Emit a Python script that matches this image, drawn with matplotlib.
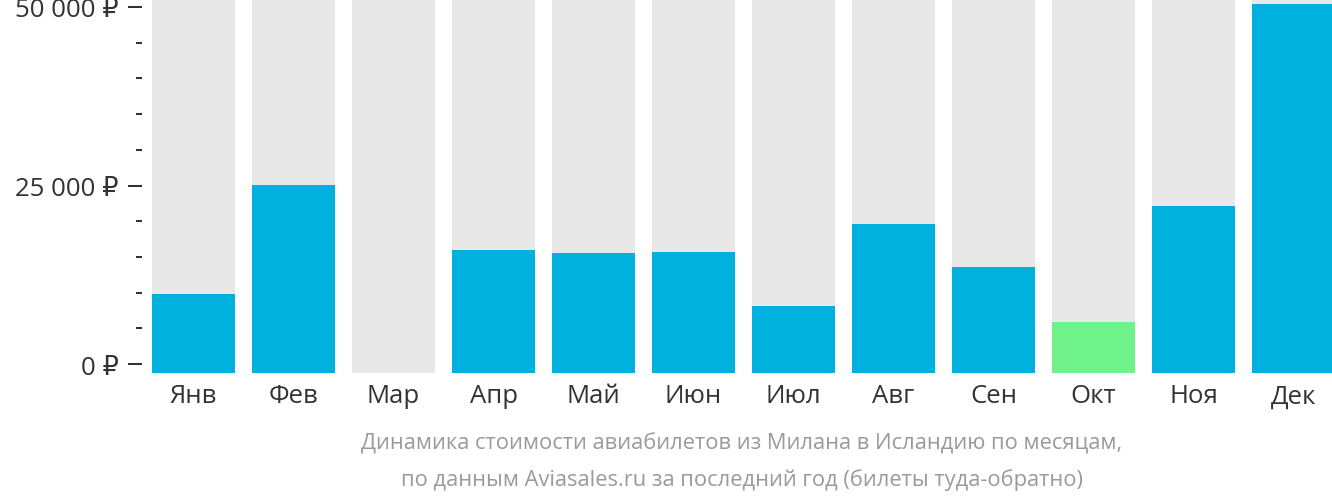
import matplotlib
matplotlib.use("Agg")
import matplotlib.pyplot as plt
from matplotlib.ticker import MultipleLocator, FuncFormatter

months = ["Янв", "Фев", "Мар", "Апр", "Май", "Июн", "Июл", "Авг", "Сен", "Окт", "Ноя", "Дек"]
prices = [9800, 25100, 0, 15970, 15550, 15690, 8120, 19610, 13590, 5880, 22130, 50420]
colors = ["#00b1de"] * 9 + ["#6ff28a"] + ["#00b1de"] * 2
caption = ["Динамика стоимости авиабилетов из Милана в Исландию по месяцам,",
           "по данным Aviasales.ru за последний год (билеты туда-обратно)"]

plt.rcParams['font.family'] = ['Open Sans', 'DejaVu Sans']

W, H = 1332, 502
fig = plt.figure(figsize=(W / 100, H / 100), dpi=100)
ax = fig.add_axes([152 / W, (H - 374) / H, 1 - 152 / W, 374 / H])

ymin, ymax = -1260, 51120
x = list(range(len(months)))
ax.bar(x, [ymax - ymin] * len(x), bottom=ymin, width=0.83, color="#e8e8e8", zorder=1)
ax.bar(x, [p - ymin if p > 0 else 0 for p in prices], bottom=ymin, width=0.83,
       color=colors, zorder=2)

ax.set_xlim(-0.415, 11.385)
ax.set_ylim(ymin, ymax)

for s in ["top", "right", "bottom"]:
    ax.spines[s].set_visible(False)
ax.spines["left"].set_position(("outward", 7.2))
ax.spines["left"].set_visible(False)

ax.yaxis.set_major_locator(MultipleLocator(25000))
ax.yaxis.set_minor_locator(MultipleLocator(5000))
ax.yaxis.set_major_formatter(FuncFormatter(lambda v, p: f"{int(v):,}".replace(",", " ") + " ₽"))
ax.tick_params(axis="y", which="major", length=10, width=1.45, color="#333333",
               labelsize=18.5, labelcolor="#333333", pad=7)
ax.tick_params(axis="y", which="minor", length=4.3, width=1.45, color="#333333")

ax.set_xticks(x)
ax.set_xticklabels(months)
ax.tick_params(axis="x", length=0, labelsize=18.5, labelcolor="#333333", pad=7.5)

cx = (152 + W) / 2 / W
fig.text(cx, 1 - 444 / H, caption[0], ha="center", va="center", fontsize=15.75, color="#9a9a9a")
fig.text(cx, 1 - 480 / H, caption[1], ha="center", va="center", fontsize=15.75, color="#9a9a9a")

fig.savefig("out.png", dpi=100)
